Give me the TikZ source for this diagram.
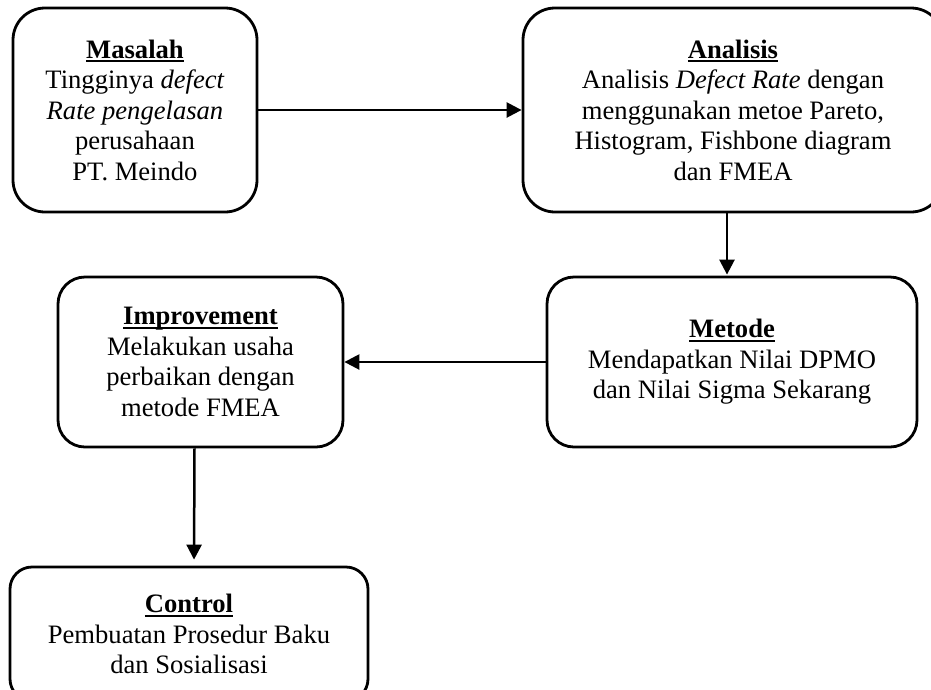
\documentclass[tikz,border=0pt]{standalone}
\usepackage{fontspec}
\setmainfont{Liberation Serif}
\usetikzlibrary{arrows.meta}
\newcommand\myul[1]{\setbox0\hbox{#1}\rlap{\rule[-4pt]{\wd0}{1.8pt}}\box0}
\begin{document}
\begin{tikzpicture}[x=1pt,y=-1pt,
  rbox/.style={draw, line width=2.8pt, rounded corners=#1, align=center, inner sep=0pt,
    font=\fontsize{26.6}{30.5}\selectfont},
  conn/.style={line width=2.5pt, -{Triangle[length=15pt,width=15pt]}}]
\useasboundingbox (0,0) rectangle (931,689);
\node[rbox=32pt, minimum width=244pt, minimum height=204pt] (mas) at (135,110)
  {\myul{\textbf{Masalah}}\\ Tingginya \textit{defect}\\ \textit{Rate pengelasan}\\ perusahaan\\ PT. Meindo};
\node[rbox=32pt, minimum width=420pt, minimum height=204pt] (ana) at (733,110)
  {\myul{\textbf{Analisis}}\\ Analisis \textit{Defect Rate} dengan\\ menggunakan metoe Pareto,\\ Histogram, Fishbone diagram\\ dan FMEA};
\node[rbox=27pt, minimum width=370pt, minimum height=170pt] (met) at (732,362)
  {\myul{\textbf{Metode}}\\ Mendapatkan Nilai DPMO\\ dan Nilai Sigma Sekarang};
\node[rbox=27pt, minimum width=285pt, minimum height=170pt] (imp) at (200.5,362)
  {\myul{\textbf{Improvement}}\\ Melakukan usaha\\ perbaikan dengan\\ metode FMEA};
\node[rbox=22pt, minimum width=358pt, minimum height=134pt] (con) at (189,634)
  {\myul{\textbf{Control}}\\ Pembuatan Prosedur Baku\\ dan Sosialisasi};
\draw[conn] (mas.east) -- (ana.west);
\draw[conn] ([xshift=-6pt]ana.south) -- ([xshift=-5pt,yshift=1pt]met.north);
\draw[conn] (met.west) -- (imp.east);
\draw[conn, shorten >=6pt] ([xshift=-6pt]imp.south) -- ([xshift=5pt]con.north);
\end{tikzpicture}
\end{document}
